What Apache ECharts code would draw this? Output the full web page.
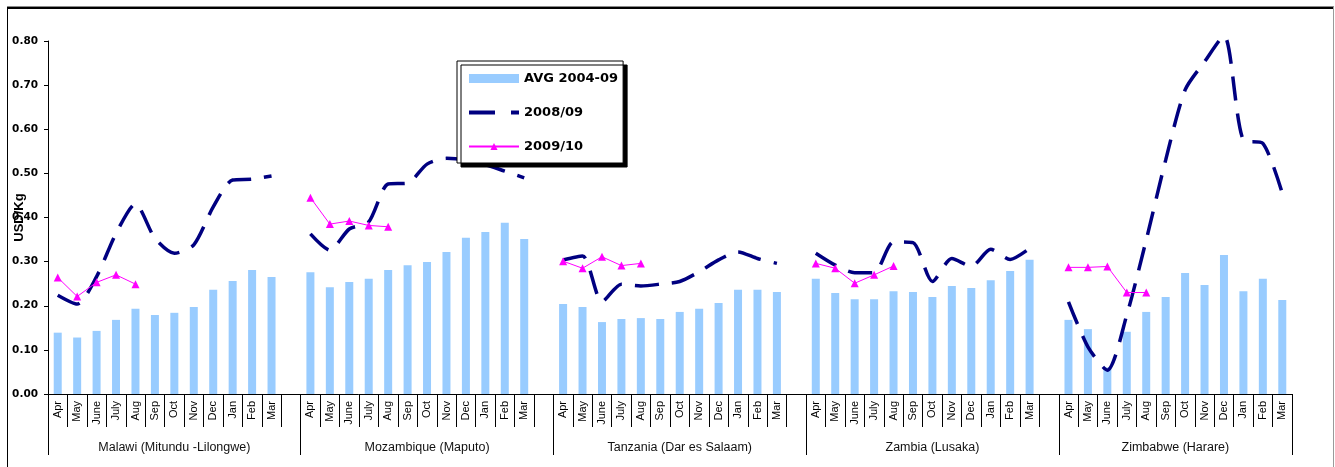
<!DOCTYPE html>
<html>
<head>
<meta charset="utf-8">
<script src="https://cdn.jsdelivr.net/npm/echarts@6/dist/echarts.min.js"></script>
<style>
html,body{margin:0;padding:0;background:#fff;}
#wrap{position:relative;width:1335px;height:467px;overflow:hidden;}
#chart{position:absolute;left:0;top:0;width:1335px;height:467px;}
#frame1{position:absolute;left:7px;top:6px;width:1326px;height:470px;border-top:1px solid #8a8a8a;border-right:1px solid #9a9a9a;}
#frame2{position:absolute;left:7px;top:7px;width:1325px;height:470px;border-top:2px solid #000;border-left:1px solid #000;}
</style>
</head>
<body>
<div id="wrap">
<div id="chart"></div>
<div id="frame1"></div>
<div id="frame2"></div>
</div>
<script>
var months = ['Apr','May','June','July','Aug','Sep','Oct','Nov','Dec','Jan','Feb','Mar'];
var groups = ['Malawi (Mitundu -Lilongwe)','Mozambique (Maputo)','Tanzania (Dar es Salaam)','Zambia (Lusaka)','Zimbabwe (Harare)'];
var seriesNames = ['AVG 2004-09','2008/09','2009/10'];
var yTicks = [0,0.1,0.2,0.3,0.4,0.5,0.6,0.7,0.8];

var avgMalawi     = [0.139,0.128,0.143,0.168,0.193,0.179,0.184,0.197,0.236,0.256,0.281,0.265];
var avgMozambique = [0.276,0.242,0.254,0.261,0.281,0.292,0.299,0.322,0.354,0.367,0.388,0.351];
var avgTanzania   = [0.204,0.197,0.163,0.170,0.172,0.170,0.186,0.193,0.206,0.236,0.236,0.231];
var avgZambia     = [0.261,0.229,0.215,0.215,0.233,0.231,0.220,0.245,0.240,0.258,0.279,0.304];
var avgZimbabwe   = [0.168,0.147,0.060,0.141,0.186,0.220,0.274,0.247,0.315,0.233,0.261,0.213];

var s0809Malawi     = [0.224,0.204,0.266,0.364,0.431,0.353,0.319,0.338,0.424,0.485,0.487,0.494];
var s0809Mozambique = [0.363,0.326,0.374,0.390,0.476,0.478,0.521,0.534,0.530,0.520,0.505,0.490];
var s0809Tanzania   = [0.304,0.313,0.209,0.249,0.245,0.249,0.255,0.277,0.304,0.322,0.307,0.296];
var s0809Zambia     = [0.319,0.292,0.275,0.275,0.345,0.343,0.255,0.307,0.289,0.328,0.305,0.330];
var s0809Zimbabwe   = [0.209,0.107,0.054,0.179,0.349,0.530,0.689,0.753,0.812,0.575,0.568,0.455];

var s0910Malawi     = [0.264,0.221,0.253,0.270,0.249];
var s0910Mozambique = [0.445,0.385,0.392,0.382,0.379];
var s0910Tanzania   = [0.301,0.285,0.311,0.291,0.296];
var s0910Zambia     = [0.296,0.285,0.251,0.270,0.290];
var s0910Zimbabwe   = [0.287,0.287,0.289,0.230,0.230];

function build(arrs) {
  var out = [];
  arrs.forEach(function (a, gi) {
    for (var i = 0; i < 12; i++) out.push(i < a.length ? a[i] : null);
    if (gi < arrs.length - 1) out.push(null);
  });
  return out;
}
var cats = [];
groups.forEach(function (g, gi) {
  months.forEach(function (m) { cats.push(m); });
  if (gi < groups.length - 1) cats.push('');
});
var avgData = build([avgMalawi, avgMozambique, avgTanzania, avgZambia, avgZimbabwe]);
var d0809 = build([s0809Malawi, s0809Mozambique, s0809Tanzania, s0809Zambia, s0809Zimbabwe]);
var d0910 = build([s0910Malawi, s0910Mozambique, s0910Tanzania, s0910Zambia, s0910Zimbabwe]);

var nCat = cats.length;
var groupStarts = [], groupCenters = [];
groups.forEach(function (g, gi) {
  var start = gi * 13;
  var end = Math.min(start + 13, nCat);
  groupStarts.push(start);
  groupCenters.push((start + end) / 2);
});
groupStarts.push(nCat);

var chart = echarts.init(document.getElementById('chart'));
chart.setOption({
  animation: false,
  backgroundColor: '#fff',
  grid: { left: 48, right: 43, top: 41, bottom: 73, containLabel: false, outerBoundsMode: 'none' },
  legend: {
    orient: 'vertical',
    left: 457, top: 61,
    padding: [11, 5, 10, 10],
    itemGap: 21,
    itemWidth: 50, itemHeight: 9,
    backgroundColor: '#fff',
    borderColor: '#000', borderWidth: 1,
    shadowColor: '#000', shadowOffsetX: 4, shadowOffsetY: 4, shadowBlur: 0.01,
    textStyle: { fontFamily: 'DejaVu Sans', fontWeight: 'bold', fontSize: 13, color: '#000' },
    data: [
      { name: seriesNames[0], icon: 'rect' },
      { name: seriesNames[1], itemStyle: { opacity: 0 }, lineStyle: { width: 4, type: [26, 16] } },
      { name: seriesNames[2] }
    ]
  },
  xAxis: [
    {
      type: 'category',
      data: cats,
      boundaryGap: true,
      axisLine: { lineStyle: { color: '#000', width: 1 } },
      axisTick: { show: true, interval: 0, length: 33, lineStyle: { color: '#000', width: 1 } },
      axisLabel: { interval: 0, rotate: 90, margin: 7, fontFamily: 'Liberation Sans', fontSize: 11, color: '#000' },
      splitLine: { show: false }
    },
    {
      type: 'value',
      position: 'bottom',
      min: 0, max: nCat,
      axisLine: { show: false },
      splitLine: { show: false },
      axisTick: { show: true, length: 61, customValues: groupStarts, lineStyle: { color: '#000', width: 1 } },
      axisLabel: {
        customValues: groupCenters, margin: 47,
        fontFamily: 'Liberation Sans', fontSize: 12.5, color: '#111',
        formatter: function (v) { var i = groupCenters.indexOf(v); return i >= 0 ? groups[i] : ''; }
      }
    }
  ],
  yAxis: {
    type: 'value',
    min: yTicks[0], max: yTicks[yTicks.length - 1], interval: 0.1,
    name: 'USD/Kg', nameLocation: 'middle', nameGap: 22, nameMoveOverlap: false,
    nameTextStyle: { fontFamily: 'Liberation Sans', fontWeight: 'bold', fontSize: 13, color: '#000' },
    axisLine: { show: true, lineStyle: { color: '#000', width: 1 } },
    axisTick: { show: true, length: 4, lineStyle: { color: '#000' } },
    axisLabel: { margin: 10, fontFamily: 'DejaVu Sans', fontWeight: 'bold', fontSize: 10.5, color: '#000',
      formatter: function (v) { return v.toFixed(2); } },
    splitLine: { show: false }
  },
  series: [
    {
      name: seriesNames[0], type: 'bar', data: avgData, barWidth: 8,
      itemStyle: { color: '#99CCFF' }, z: 1
    },
    {
      name: seriesNames[1], type: 'line', data: d0809, smooth: 0.25, symbol: 'none',
      connectNulls: false, clip: false,
      itemStyle: { color: '#000080' },
      lineStyle: { color: '#000080', width: 3.5, type: [24, 13], cap: 'butt' }, z: 3
    },
    {
      name: seriesNames[2], type: 'line', data: d0910, smooth: false, symbol: 'triangle', symbolSize: 8,
      connectNulls: false,
      itemStyle: { color: '#FF00FF' },
      lineStyle: { color: '#FF00FF', width: 1 }, z: 4
    }
  ]
});
</script>
</body>
</html>
